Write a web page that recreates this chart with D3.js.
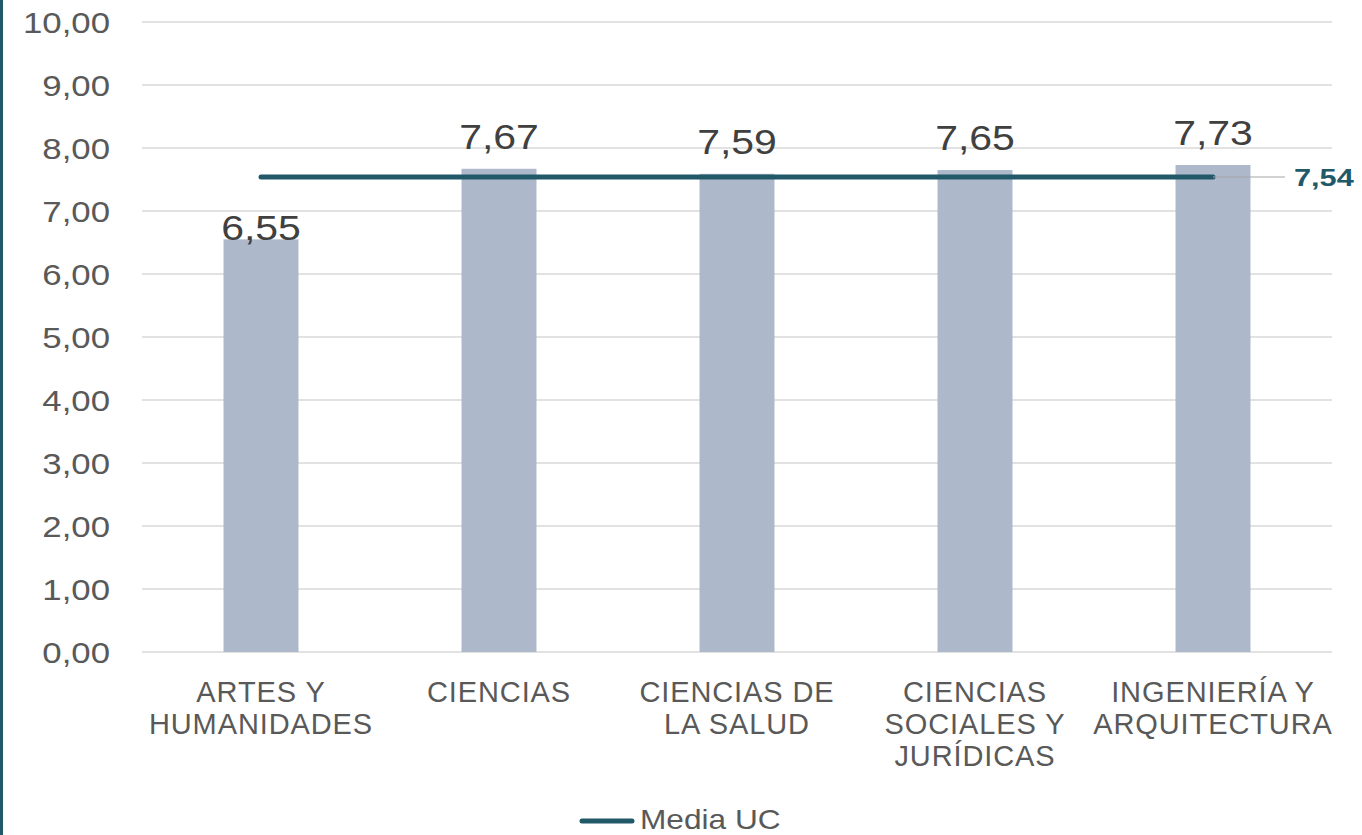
<!DOCTYPE html>
<html>
<head>
<meta charset="utf-8">
<script src="https://cdn.jsdelivr.net/npm/d3@7.9.0/dist/d3.min.js"></script>
<style>
  body { margin: 0; background: #fff; }
  svg text { font-family: "Liberation Sans", Arial, sans-serif; }
</style>
</head>
<body>
<svg id="chart" width="1362" height="835"></svg>
<script>
const categories = [
  ['ARTES Y', 'HUMANIDADES'],
  ['CIENCIAS'],
  ['CIENCIAS DE', 'LA SALUD'],
  ['CIENCIAS', 'SOCIALES Y', 'JURÍDICAS'],
  ['INGENIERÍA Y', 'ARQUITECTURA']
];
const values = [6.55, 7.67, 7.59, 7.65, 7.73];
const mediaUC = 7.54;
const yTicks = [0, 1, 2, 3, 4, 5, 6, 7, 8, 9, 10];

const fmt = (v) => v.toFixed(2).replace('.', ',');

const svg = d3.select('#chart');
const margin = { left: 142, right: 30, top: 22, bottom: 183 };
const width = 1362, height = 835;

// text that is a bit wider than the plain font
function wideText(g, x, y, sx) {
  return g.append('text')
    .attr('transform', `translate(${x},${y}) scale(${sx},1)`);
}

// dark border on the left edge
svg.append('rect')
  .attr('x', 0).attr('y', 0)
  .attr('width', 3).attr('height', height)
  .attr('fill', '#215968');

const x = d3.scaleBand()
  .domain(d3.range(categories.length))
  .range([margin.left, width - margin.right])
  .paddingInner(0.685)
  .paddingOuter(0.3425);

const y = d3.scaleLinear()
  .domain([0, 10])
  .range([height - margin.bottom, margin.top]);

const cx = (i) => x(i) + x.bandwidth() / 2;

// gridlines
svg.append('g')
  .selectAll('line')
  .data(yTicks)
  .join('line')
  .attr('x1', margin.left).attr('x2', width - margin.right)
  .attr('y1', (d) => y(d)).attr('y2', (d) => y(d))
  .attr('stroke', '#d9d9d9')
  .attr('stroke-width', 1.5);

// y tick labels
const tickG = svg.append('g');
yTicks.forEach((t) => {
  wideText(tickG, 110, y(t) + 10.5, 1.2)
    .attr('text-anchor', 'end')
    .attr('font-size', 29)
    .attr('fill', '#595959')
    .text(fmt(t));
});

// bars
svg.append('g')
  .selectAll('rect')
  .data(values)
  .join('rect')
  .attr('x', (d, i) => x(i))
  .attr('y', (d) => y(d))
  .attr('width', x.bandwidth())
  .attr('height', (d) => y(0) - y(d))
  .attr('fill', '#adb9ca');

// bar labels
const labG = svg.append('g');
values.forEach((v, i) => {
  wideText(labG, cx(i), v < mediaUC ? y(v) + 1 : y(v) - 20, 1.17)
    .attr('text-anchor', 'middle')
    .attr('font-size', 35)
    .attr('fill', '#404040')
    .text(fmt(v));
});

// mean line
const lastI = values.length - 1;
svg.append('line')
  .attr('x1', cx(0)).attr('x2', cx(lastI))
  .attr('y1', y(mediaUC)).attr('y2', y(mediaUC))
  .attr('stroke', '#215968')
  .attr('stroke-width', 5)
  .attr('stroke-linecap', 'round');

// leader + label for the mean
svg.append('line')
  .attr('x1', cx(lastI)).attr('x2', cx(lastI) + 72)
  .attr('y1', y(mediaUC)).attr('y2', y(mediaUC))
  .attr('stroke', '#a6a6a6')
  .attr('stroke-width', 1.2);
wideText(svg, cx(lastI) + 81, y(mediaUC) + 9, 1.28)
  .attr('font-size', 24)
  .attr('font-weight', 'bold')
  .attr('fill', '#215968')
  .text(fmt(mediaUC));

// category labels
const catG = svg.append('g');
categories.forEach((lines, i) => {
  const t = catG.append('text')
    .attr('x', cx(i))
    .attr('y', 702)
    .attr('text-anchor', 'middle')
    .attr('font-size', 29)
    .attr('letter-spacing', 0.9)
    .attr('fill', '#595959');
  lines.forEach((ln, j) => {
    t.append('tspan')
      .attr('x', cx(i))
      .attr('dy', j === 0 ? 0 : 32)
      .text(ln);
  });
});

// legend
const legend = svg.append('g');
legend.append('line')
  .attr('x1', 582).attr('x2', 632)
  .attr('y1', 821).attr('y2', 821)
  .attr('stroke', '#215968')
  .attr('stroke-width', 5)
  .attr('stroke-linecap', 'round');
wideText(legend, 640, 829, 1.13)
  .attr('font-size', 28)
  .attr('fill', '#595959')
  .text('Media UC');
</script>
</body>
</html>
